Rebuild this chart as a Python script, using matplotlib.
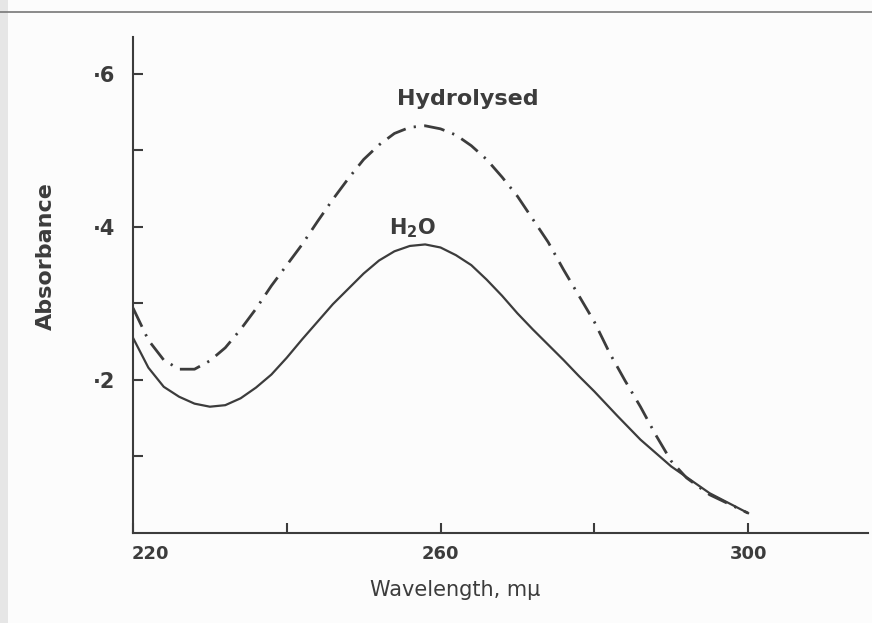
import matplotlib.pyplot as plt
from matplotlib.lines import Line2D
from matplotlib.patches import Rectangle
import matplotlib.transforms as mtransforms

# absorption spectra
wl_water = [220, 222, 224, 226, 228, 230, 232, 234, 236, 238, 240, 242, 244, 246, 248,
            250, 252, 254, 256, 258, 260, 262, 264, 266, 268, 270, 272, 274, 276, 278,
            280, 283, 286, 290, 295, 300]
abs_water = [0.255, 0.216, 0.191, 0.178, 0.169, 0.165, 0.167, 0.176, 0.190, 0.207, 0.229,
             0.253, 0.276, 0.299, 0.319, 0.339, 0.356, 0.368, 0.375, 0.377, 0.373, 0.363,
             0.350, 0.331, 0.310, 0.287, 0.266, 0.246, 0.226, 0.205, 0.185, 0.153, 0.122,
             0.087, 0.052, 0.026]

wl_hydrolysed = [220, 222, 224, 226, 228, 230, 232, 234, 236, 238, 240, 242, 244, 246, 248,
                 250, 252, 254, 256, 258, 260, 262, 264, 266, 268, 270, 272, 274, 276, 278,
                 280, 282, 284, 286, 288, 290, 292, 295, 300]
abs_hydrolysed = [0.294, 0.252, 0.226, 0.214, 0.214, 0.225, 0.242, 0.266, 0.293, 0.323, 0.350,
                  0.377, 0.407, 0.436, 0.463, 0.488, 0.507, 0.522, 0.530, 0.532, 0.528, 0.520,
                  0.506, 0.488, 0.465, 0.440, 0.410, 0.380, 0.344, 0.310, 0.276, 0.235, 0.199,
                  0.165, 0.128, 0.094, 0.072, 0.050, 0.026]

x_ticks = [220, 240, 260, 280, 300]
x_ticklabels = ['220', '', '260', '', '300']
y_ticks = [0.1, 0.2, 0.3, 0.4, 0.5, 0.6]
y_ticklabels = ['', '\u00b72', '', '\u00b74', '', '\u00b76']

ink = '#3c3c3c'

fig = plt.figure(figsize=(8.72, 6.23), dpi=100)
fig.patch.set_facecolor('#fcfcfc')
ax = fig.add_axes([133 / 872, 1 - 533 / 623, (868 - 133) / 872, (533 - 37) / 623])
ax.set_facecolor('none')

ax.plot(wl_water, abs_water, color=ink, lw=1.6, solid_joinstyle='round')
ax.plot(wl_hydrolysed, abs_hydrolysed, color=ink, lw=2.0,
        dashes=(7.5, 3, 0.8, 3))

ax.set_xlim(220, 315.6)
ax.set_ylim(0, 0.648)

for side in ('top', 'right'):
    ax.spines[side].set_visible(False)
for side in ('left', 'bottom'):
    ax.spines[side].set_color(ink)
    ax.spines[side].set_linewidth(1.5)

ax.set_xticks(x_ticks)
ax.set_xticklabels(x_ticklabels)
ax.set_yticks(y_ticks)
ax.set_yticklabels(y_ticklabels)
ax.tick_params(axis='both', direction='in', length=7, width=1.5, color=ink,
               labelcolor=ink)
ax.tick_params(axis='x', pad=8.4, labelsize=13)
ax.tick_params(axis='y', pad=13, labelsize=15)
for lab in ax.get_xticklabels() + ax.get_yticklabels():
    lab.set_fontweight('bold')
# the first wavelength label sits a little right of its tick
first = ax.get_xticklabels()[0]
first.set_transform(first.get_transform() +
                    mtransforms.ScaledTranslation(17 / 100, 0, fig.dpi_scale_trans))

ax.set_xlabel('Wavelength, m\u03bc', fontsize=15, color=ink)
ax.xaxis.set_label_coords((455 - 133) / (868 - 133), -(580 - 533) / (533 - 37))
ax.set_ylabel('Absorbance', fontsize=16, color=ink, fontweight='bold')
ax.yaxis.set_label_coords(-(133 - 56) / (868 - 133), (533 - 256) / (533 - 37))

ax.text(263.6, 0.567, 'Hydrolysed', fontsize=16, color=ink, fontweight='bold',
        ha='center', va='center')
ax.text(256.3, 0.398, 'H$_\\mathbf{2}$O', fontsize=15, color=ink, fontweight='bold',
        ha='center', va='center')

# scanned page edges
fig.add_artist(Line2D([0, 1], [1 - 12 / 623, 1 - 12 / 623], color='#777777', lw=1.2))
fig.add_artist(Rectangle((0, 0), 8 / 872, 1, color='#e6e6e6', lw=0))

fig.savefig('out.png', dpi=100, facecolor=fig.get_facecolor())
